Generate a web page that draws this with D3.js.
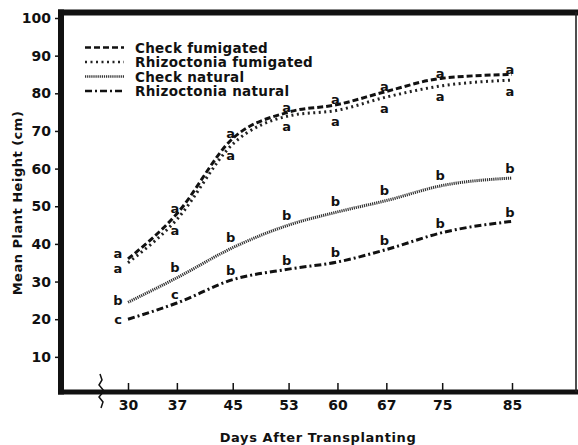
<!DOCTYPE html>
<html><head><meta charset="utf-8">
<script src="https://cdn.jsdelivr.net/npm/d3@7"></script>
<style>
html,body{margin:0;padding:0;background:#fff;}
svg{display:block;}
text{font-family:"DejaVu Sans",sans-serif;font-weight:bold;fill:#111;}
</style></head>
<body>
<svg id="chart" width="578" height="445"></svg>
<script>
const days = [30, 37, 45, 53, 60, 67, 75, 85];
const yTicks = [10, 20, 30, 40, 50, 60, 70, 80, 90, 100];
const seriesNames = ["Check fumigated", "Rhizoctonia fumigated", "Check natural", "Rhizoctonia natural"];
const checkFumigated = [36, 48, 68, 75, 77, 80.5, 84, 85];
const rhizoctoniaFumigated = [35, 46.5, 66.5, 74, 75.5, 79, 82, 83.5];
const checkNatural = [24.5, 31, 39, 45, 48.5, 51.5, 55.5, 57.5];
const rhizoctoniaNatural = [20, 24.3, 30.5, 33.3, 35.2, 38.5, 43, 46];
const lettersCF = ["a","a","a","a","a","a","a","a"];
const lettersRF = ["a","a","a","a","a","a","a","a"];
const lettersCN = ["b","b","b","b","b","b","b","b"];
const lettersRN = ["c","c","b","b","b","b","b","b"];

const svg = d3.select("#chart");
const x = d3.scaleLinear().domain([30, 85]).range([128, 512]);
const y = d3.scaleLinear().domain([0, 100]).range([394.5, 18]);

const styles = [
  {dash:"6,3", width:3, color:"#111", dy:-5, dy0:-5},
  {dash:"2,3.5", width:3, color:"#222", dy:11, dy0:6},
  {dash:"1.2,0.9", width:3, color:"#333", dy:-10, dy0:-2},
  {dash:"7,3,2,3", width:3, color:"#111", dy:-9, dy0:0}
];
const series = [
  {name:seriesNames[0], values:checkFumigated, letters:lettersCF},
  {name:seriesNames[1], values:rhizoctoniaFumigated, letters:lettersRF},
  {name:seriesNames[2], values:checkNatural, letters:lettersCN},
  {name:seriesNames[3], values:rhizoctoniaNatural, letters:lettersRN}
];

// Frame
const frame = svg.append("g");
frame.append("line").attr("x1",61).attr("x2",61).attr("y1",9.5).attr("y2",394.5)
  .attr("stroke","#111").attr("stroke-width",6);
frame.append("line").attr("x1",58).attr("x2",578).attr("y1",12.5).attr("y2",12.5)
  .attr("stroke","#111").attr("stroke-width",6);
frame.append("line").attr("x1",58).attr("x2",578).attr("y1",392).attr("y2",392)
  .attr("stroke","#111").attr("stroke-width",5);
frame.append("line").attr("x1",576).attr("x2",576).attr("y1",12).attr("y2",392)
  .attr("stroke","#222").attr("stroke-width",1.6);

// Y axis
const yAxis = d3.axisLeft(y).tickValues(yTicks).tickSize(3).tickPadding(4).tickFormat(d3.format("d"));
const gy = svg.append("g").attr("transform","translate(58,0)").call(yAxis);
gy.select(".domain").remove();
gy.selectAll(".tick line").attr("stroke","#111").attr("stroke-width",1.5);
gy.selectAll(".tick text").style("font-size","14px").style("font-family","DejaVu Sans").style("font-weight","bold").attr("fill","#111");

// X axis
const xAxis = d3.axisTop(x).tickValues(days).tickSize(7).tickFormat(d3.format("d"));
const gx = svg.append("g").attr("transform","translate(0,390)").call(xAxis);
gx.select(".domain").remove();
gx.selectAll(".tick line").attr("stroke","#111").attr("stroke-width",1.5);
gx.selectAll(".tick text").attr("y",20).attr("dy","0").style("font-size","14px")
  .style("font-family","DejaVu Sans").style("font-weight","bold").attr("fill","#111");

// axis break squiggle
svg.append("path")
  .attr("d","M100,374 L102,380 L99,385 L104,391 L99,397 L103,402 L101,408")
  .attr("fill","none").attr("stroke","#111").attr("stroke-width",1.5);

// Titles
svg.append("text").attr("x",318).attr("y",442).attr("text-anchor","middle")
  .style("font-size","13px").style("letter-spacing","0.6px").text("Days After Transplanting");
svg.append("text").attr("transform","translate(22,203) rotate(-90)").attr("text-anchor","middle")
  .style("font-size","13px").style("letter-spacing","0.5px").text("Mean Plant Height (cm)");

// Lines
const line = d3.line().x(d => x(d[0])).y(d => y(d[1])).curve(d3.curveMonotoneX);
series.forEach((s, i) => {
  const st = styles[i];
  const pts = days.map((d, j) => [d, s.values[j]]);
  svg.append("path").datum(pts).attr("d", line)
    .attr("fill","none").attr("stroke",st.color).attr("stroke-width",st.width)
    .attr("stroke-dasharray",st.dash);
  svg.append("g").selectAll("text").data(pts).join("text")
    .attr("x",(d,j) => x(d[0]) + (j === 0 ? -10 : -2))
    .attr("y",(d,j) => y(d[1]) + (j === 0 ? st.dy0 : st.dy))
    .attr("text-anchor","middle").attr("dominant-baseline","central")
    .style("font-size","13px")
    .text((d,j) => s.letters[j]);
});

// Legend
const lg = svg.append("g");
series.forEach((s, i) => {
  const st = styles[i];
  const ly = 47.5 + i * 14.5;
  lg.append("line").attr("x1",85).attr("x2",124).attr("y1",ly).attr("y2",ly)
    .attr("stroke",st.color).attr("stroke-width",st.width - 0.5).attr("stroke-dasharray",st.dash);
  lg.append("text").attr("x",135).attr("y",ly).attr("dominant-baseline","central")
    .style("font-size","13.5px").style("letter-spacing","0.3px").text(s.name);
});
</script>
</body></html>
